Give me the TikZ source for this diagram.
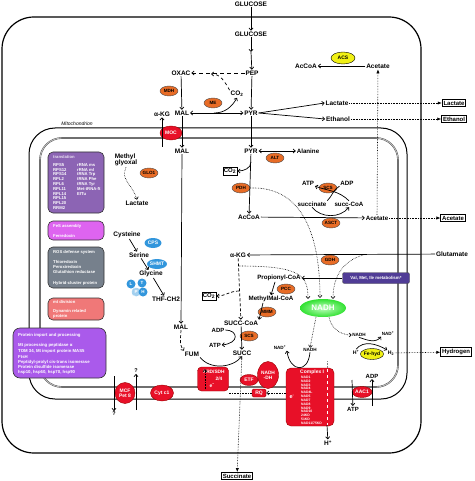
\documentclass[tikz,border=0pt]{standalone}
\usepackage{fontspec}
\setmainfont{Liberation Sans}
\usetikzlibrary{arrows.meta,shapes.geometric,shadings}
\definecolor{enzor}{RGB}{232,108,38}
\definecolor{redm}{RGB}{232,16,40}
\definecolor{yelm}{RGB}{240,240,20}
\definecolor{blum}{RGB}{50,150,220}
\definecolor{transc}{RGB}{140,100,180}
\definecolor{fesc}{RGB}{222,100,240}
\definecolor{rosc}{RGB}{118,128,140}
\definecolor{mtdc}{RGB}{240,120,120}
\definecolor{impc}{RGB}{170,90,235}
\definecolor{valc}{RGB}{80,60,150}
\newcommand\myfs[1]{\fontsize{#1}{#1}\selectfont}
\begin{document}
\begin{tikzpicture}[x=1pt,y=-1pt,
 >={Straight Barb[length=2.2pt,width=4pt]},
 lbl/.style={font=\myfs{6.5}\bfseries, inner sep=0.8pt},
 sml/.style={font=\myfs{4.6}\bfseries, inner sep=0.5pt},
 enz/.style={ellipse, draw=black!70, fill=enzor, line width=0.4pt, font=\myfs{4.6}\bfseries, inner sep=0pt, minimum width=18, minimum height=10},
 redc/.style={ellipse, draw=red!60!black, fill=redm, text=white, font=\myfs{5}\bfseries, inner sep=0pt, align=center},
 yel/.style={ellipse, draw=black, fill=yelm, font=\myfs{5}\bfseries, inner sep=0pt, minimum width=23, minimum height=11},
 blu/.style={ellipse, fill=blum, text=white, font=\myfs{5}\bfseries, inner sep=0pt, minimum width=17, minimum height=10},
 obox/.style={draw, line width=0.8pt, font=\myfs{6}\bfseries, inner sep=1.3pt},
 cbox/.style={draw, line width=0.6pt, font=\myfs{6}\bfseries, inner sep=1pt},
 arr/.style={->, line width=0.7pt},
 darr/.style={<->, line width=0.7pt},
 dotl/.style={densely dotted, line width=0.6pt},
 filltip/.style={-{Latex[length=4pt,width=3.2pt]}},
 boxtxt/.style={anchor=west, text=white, font=\myfs{4.2}\bfseries, inner sep=0pt},
 circ/.style={circle, fill=blum, text=white, font=\myfs{4.5}\bfseries, inner sep=0pt, minimum size=9}
]
\useasboundingbox (0,0) rectangle (474,481);
% cell and mitochondrion
\draw[line width=1.2pt, rounded corners=32] (2,17) rectangle (421,453);
\draw[line width=1pt, rounded corners=26] (29,128) rectangle (407,399);
\draw[line width=1.6pt, black!75, rounded corners=22] (40,138) rectangle (398,387);
\draw[line width=0.8pt, gray!45, rounded corners=22] (40,138) rectangle (398,387);
\node[font=\myfs{5}\itshape, inner sep=0pt] (mito) at (77,124) {Mitochondrion};

% left boxes
\draw[fill=transc, draw=black!80, rounded corners=5, line width=0.6pt] (48,152) rectangle (104,213);
\node[boxtxt, text=white!80!transc] (trt) at (53,157) {translation};
\foreach \t [count=\i] in {RPS5,RPS12,RPS14,RPL2,RPL6,RPL11,RPL14,RPL15,RPL20,RRM2}
  \node[boxtxt] at (53,{160+4.8*\i}) {\t};
\foreach \t [count=\i] in {rRNA ms,rRNA ml,tRNA Trp,tRNA Phe,tRNA Tyr,Met-tRNA-ft,EfTu}
  \node[boxtxt] at (77,{160+4.8*\i}) {\t};
\draw[fill=fesc, draw=black!80, rounded corners=5, line width=0.6pt] (48,221) rectangle (104,240);
\node[boxtxt] (fes) at (53,226) {FeS assembly};
\node[boxtxt] (fdx) at (53,236) {Ferredoxin};
\draw[fill=rosc, draw=black!80, rounded corners=5, line width=0.6pt] (48,247) rectangle (104,288);
\node[boxtxt] (ros) at (53,252) {ROS defense system};
\node[boxtxt] at (53,262) {Thioredoxin};
\node[boxtxt] at (53,267) {Peroxiredoxin};
\node[boxtxt] at (53,272) {Glutathion reductase};
\node[boxtxt] at (53,283) {Hybrid-cluster protein};
\draw[fill=mtdc, draw=black!80, rounded corners=5, line width=0.6pt] (48,298) rectangle (104,320);
\node[boxtxt] (mtd) at (53,302) {mt division};
\node[boxtxt] at (53,311) {Dynamin related};
\node[boxtxt] at (53,316) {protein};
\draw[fill=impc, draw=black!80, rounded corners=7, line width=0.6pt] (13,328) rectangle (106,378);
\node[boxtxt, font=\myfs{4.3}\bfseries] (imp) at (18,335) {Protein import and processing};
\foreach \t [count=\i] in {Mt processing peptidase α,{TOM 34, Mt import protein MAS5},FtsH,Peptidyl-prolyl cis-trans isomerase,Protein disulfide isomerase,{hsp10, hsp60, hsp70, hsp90}}
  \node[boxtxt, font=\myfs{4.3}\bfseries] at (18,{340.5+5.35*\i}) {\t};

% cytosol metabolites
\node[lbl] (glc0) at (251,4) {GLUCOSE};
\node[lbl] (glc) at (251,34) {GLUCOSE};
\coordinate (gmid) at (251,52);
\node[lbl] (pep) at (252,73) {PEP};
\node[lbl] (oxac) at (181,73) {OXAC};
\node[lbl] (co2a) at (237,94) {CO\textsubscript{2}};
\coordinate (co2in) at (211,74);
\node[enz] (mdh) at (169,91) {MDH};
\node[enz] (me) at (213,103) {ME};
\node[lbl] (mal1) at (182,113) {MAL};
\node[lbl] (pyr1) at (251,113) {PYR};
\coordinate (mept) at (214,113);
\node[lbl] (akg1) at (162,114) {α-KG};
\coordinate (akgfrom) at (162,147);
\node[redc, minimum width=22, minimum height=14] (moc) at (171,133) {MOC};
\node[lbl] (acoa1) at (306,66) {AcCoA};
\node[yel, minimum width=24, minimum height=12] (acs) at (343,58) {ACS};
\node[lbl] (ace1) at (378,66) {Acetate};
\node[lbl] (lac1) at (337,103) {Lactate};
\node[lbl] (eth1) at (338,119) {Ethanol};
\node[obox] (lacb) at (454,103) {Lactate};
\node[obox] (ethb) at (454,119) {Ethanol};
\node[obox] (aceb) at (453,218) {Acetate};
\node[lbl] (glu) at (452,254) {Glutamate};
\node[obox] (h2b) at (456,352) {Hydrogen};
\node[obox] (succb) at (237,476) {Succinate};

% mitochondrial metabolites
\node[lbl] (mal2) at (182,151) {MAL};
\node[lbl] (pyr2) at (251,151) {PYR};
\node[lbl, font=\myfs{6.2}\bfseries] (ala) at (308,151) {Alanine};
\node[enz] (alt) at (275,158) {ALT};
\node[cbox] (co2b) at (230,171) {CO\textsubscript{2}};
\node[enz] (pdh) at (241,188) {PDH};
\node[lbl] (acoa2) at (249,217) {AcCoA};
\node[lbl, font=\myfs{6.2}\bfseries] (ace2) at (377,218) {Acetate};
\node[enz] (asct) at (331,223) {ASCT};
\node[enz] (scs1) at (328,188) {SCS};
\node[lbl, font=\myfs{6.2}\bfseries] (atp1) at (308,183) {ATP};
\node[lbl, font=\myfs{6.2}\bfseries] (adp1) at (347,183) {ADP};
\node[lbl, font=\myfs{6.2}\bfseries] (succ1) at (312,204) {succinate};
\node[lbl, font=\myfs{6.2}\bfseries] (scoa1) at (349,204) {succ-CoA};
\node[lbl] (akg2) at (238,255) {α-KG};
\coordinate (akgd) at (239,266);
\coordinate (akgc) at (239,291);
\coordinate (glud) at (363,255);
\node[enz] (gdh) at (330,260) {GDH};
\node[draw=black!70, fill=valc, text=white, rounded corners=2, font=\myfs{4.4}\bfseries, minimum width=67, minimum height=11, inner sep=0pt] (val) at (376,278) {Val, Met, Ile metabolism*};
\node[lbl, font=\myfs{6.2}\bfseries] (prop) at (279,278) {Propionyl-CoA};
\node[enz] (pcc) at (286,289) {PCC};
\node[lbl, font=\myfs{6.2}\bfseries] (mmc) at (271,299) {MethylMal-CoA};
\node[enz] (mmm) at (267,312) {MMM};
\node[cbox] (co2c) at (209,296) {CO\textsubscript{2}};
\node[ellipse, inner color=green!25, outer color={rgb,255:red,50;green,225;blue,50}, text=white, font=\myfs{8}\bfseries, minimum width=46, minimum height=18, inner sep=0pt] (nadh) at (323,308) {NADH};
\node[lbl] (scoa2) at (241,323) {SUCC-CoA};
\node[lbl] (mal3) at (181,327) {MAL};
\node[lbl, font=\myfs{6}\bfseries] (adp2) at (218,330) {ADP};
\node[enz] (scs2) at (249,336) {SCS};
\node[lbl, font=\myfs{6}\bfseries] (atp2) at (215,345) {ATP};
\node[lbl] (succ2) at (242,353) {SUCC};
\node[lbl] (fum) at (192,354) {FUM};
\node[sml] (nadp1) at (280,348) {NAD\textsuperscript{+}};
\node[sml] (nadh2) at (310,350) {NADH};
\node[sml] (nadh3) at (359,335) {NADH};
\node[sml] (nadp2) at (388,334) {NAD\textsuperscript{+}};
\node[sml, font=\myfs{5.2}\bfseries] (hp1) at (356,352) {H\textsuperscript{+}};
\node[yel] (fehyd) at (372,354) {Fe-hyd};
\node[sml, font=\myfs{5.2}\bfseries] (h2) at (391,353) {H\textsubscript{2}};

% membrane complexes
\node[draw=red!60!black, fill=redm, rounded corners=4, minimum width=31, minimum height=24, inner sep=0pt] (frd) at (213,379) {};
\node[text=white, font=\myfs{4.8}\bfseries, inner sep=0pt] (frdt) at (214,372) {FRD/SDH};
\node[text=white, font=\myfs{4.8}\bfseries, inner sep=0pt] (frd2) at (219,379) {2/4};
\node[text=white, font=\myfs{5}\bfseries, inner sep=0pt] (frde) at (212,386) {e\textsuperscript{-}};
\draw[densely dotted, ->, line width=0.6pt] (205,389) -- (205,369);
\node[redc, minimum width=18, minimum height=11] (etf) at (249,380) {ETF};
\node[redc, minimum width=21, minimum height=27, font=\myfs{4.8}\bfseries] (ndh) at (268,375) {NADH\\-DH};
\node[draw=red!60!black, fill=redm, text=white, rounded corners=1.5, font=\myfs{5}\bfseries, minimum width=14, minimum height=8, inner sep=0pt] (rq) at (259,393) {RQ};
\node[draw=red!60!black, fill=redm, rounded corners=5, minimum width=48, minimum height=58, inner sep=0pt] (c1) at (310,397) {};
\node[text=white, font=\myfs{5}\bfseries, inner sep=0pt, anchor=west] (c1t) at (300,372) {Complex I};
\foreach \t [count=\i] in {NAD1,NAD2,NAD3,NAD4,NAD4L,NAD5,NAD7,NAD8,NAD9,NAD10,24KD,51KD,NAD11/75KD}
  \node[text=white, font=\myfs{3.4}\bfseries, inner sep=0pt, anchor=west] at (301,{373.5+3.83*\i}) {\t};
\node[text=white, font=\myfs{5.5}\bfseries, inner sep=0pt] (c1e) at (292,397) {e\textsuperscript{-}};
\draw[white, dashed, line width=0.5pt] (327,369) -- (327,425);
\draw[gray, densely dotted, line width=0.5pt] (327,361) -- (327,368);
\node[lbl] (hp2) at (328,443) {H\textsuperscript{+}};
\coordinate (c1bot) at (327,425);
\node[redc, minimum width=23, minimum height=16] (cytc) at (162,393) {Cyt c1};
\node[redc, minimum width=20, minimum height=21] (mcf) at (125,393) {MCF\\Pet 8};
\node[redc, minimum width=20, minimum height=11] (aac) at (362,392) {AAC1};
\node[lbl, font=\myfs{6}\bfseries] (adp3) at (372,376) {ADP};
\node[lbl, font=\myfs{6}\bfseries] (atp3) at (353,409) {ATP};
\coordinate (adpfrom) at (372,406);
\coordinate (atpfrom) at (352,380);
\node[lbl, font=\myfs{5.5}\bfseries] (q1) at (114,414) {?};
\node[lbl, font=\myfs{5.5}\bfseries] (q2) at (136,371) {?};
\coordinate (mcfa) at (114,376);
\coordinate (mcfb) at (136,410);

% left metabolites
\node[lbl, align=left] (mg) at (126,160) {Methyl\\glyoxal};
\node[enz] (glo) at (149,173) {GLO1};
\node[lbl] (lac2) at (137,203) {Lactate};
\node[lbl] (cys) at (127,235) {Cysteine};
\node[blu] (cps) at (153,243) {CPS};
\node[lbl] (ser) at (139,255) {Serine};
\node[blu, minimum width=19] (shmt) at (157,264) {SHMT};
\node[lbl] (gly) at (151,274) {Glycine};
\node[lbl] (thf) at (166,299) {THF-CH2};
\node[circ] (cl) at (131,284) {L};
\node[circ] (ct) at (142,283) {T};
\node[circ, fill=blum!45, draw=white, dashed] (cp) at (136,292) {P};
\node[circ] (ch) at (143,292) {H};

% connectors
\draw[arr] (glc0) -- (glc);
\draw[arr] (glc) -- (gmid);
\draw[arr] (gmid) -- (pep);
\draw[arr, dash pattern=on 4pt off 3pt] (pep) -- (oxac);
\draw[arr, dashed] (co2a.north west) to[out=120,in=0] (co2in);
\draw[arr] (oxac) -- (mal1);
\draw[darr] (mal1) -- (pyr1);
\draw[arr] (mept) to[out=0,in=240] (co2a.south);
\draw[arr] (pep) -- (pyr1);
\draw[arr] (pyr1.east) -- (lac1.west);
\draw[arr] (pyr1.east) -- (eth1.west);
\draw[dotl, filltip] (lac1) -- (lacb);
\draw[dotl, filltip] (eth1) -- (ethb);
\draw[arr] (ace1) -- (acoa1);
\draw[dotl, filltip] (ace2) -- (ace1);
\draw[dotl, filltip] (ace2) -- (aceb);
\draw[arr] (mal1) -- (mal2);
\draw[arr] (pyr1) -- (pyr2);
\draw[arr] (akgfrom) -- (akg1);
\draw[darr] (pyr2) -- (ala);
\draw[arr] (pyr2) -- (acoa2);
\draw[arr] (251,162) to[out=-90,in=0] (co2b.east);
\draw[arr] (acoa2) -- (ace2);
\draw[arr] (scoa1.north) to[out=135,in=-20] (atp1.south east);
\draw[line width=0.7pt] (adp1.south west) to[out=210,in=45] (succ1.north east);
\draw[arr] (succ1.south) to[out=-50,in=-130] (scoa1.south);
\draw[arr] (glu) -- (akg2);
\draw[arr] (val) -- (prop);
\draw[arr] (prop.south) ++(-4,0) -- (mmc.north);
\draw[arr] (mmc.south) ++(-8,0) -- (scoa2.north east);
\draw[arr, densely dashed] (akg2) -- (scoa2);
\draw[arr, densely dashed] (akgc) to[out=180,in=0] (co2c.east);
\draw[->, dotl] (akgd) .. controls (300,266) and (308,275) .. (308,299);
\draw[->, dotl] (pdh.east) .. controls (305,186) and (320,240) .. (320,298);
\draw[->, dotl] (glud) .. controls (340,262) and (333,280) .. (333,299);
\draw[->, dotl] (316,317) -- (nadh2.north);
\draw[->, dotl] (329,317) to[out=-80,in=180] (nadh3.west);
\draw[arr] (nadh2.south) .. controls (308,374) and (290,372) .. (nadp1.south east);
\draw[arr] (nadh3.south) to[out=-20,in=230] (nadp2.south west);
\draw[arr] (hp1.north) to[out=50,in=150] (h2.north west);
\draw[dotl, filltip] (h2) -- (h2b);
\draw[arr] (scoa2) -- (succ2);
\draw[arr] (adp2.east) .. controls (238,330) and (240,343) .. (atp2.east);
\draw[dotl, filltip] (succ2) -- (succb);
\draw[arr] (mal2) -- (mal3);
\draw[arr, densely dashed] (mal3.south) .. controls (180,345) .. (fum.north west);
\draw[arr] (fum.south east) .. controls (210,370) and (232,368) .. (succ2.south);
\draw[dotl] (rq.west) -- (229,393);
\draw[->, dotl] (c1.west |- rq) -- (rq.east);
\draw[arr] (c1bot) -- (hp2);
\draw[arr] (adpfrom) -- (adp3);
\draw[arr] (atpfrom) -- (atp3);
\draw[arr] (mcfa) -- (q1);
\draw[arr] (mcfb) -- (q2);
\draw[->, dotl] (mg.south) .. controls (120,180) and (133,185) .. (lac2.north);
\draw[arr] (cys) -- (ser);
\draw[arr] (ser) -- (gly);
\draw[arr] (gly) -- (thf);
\end{tikzpicture}
\end{document}
